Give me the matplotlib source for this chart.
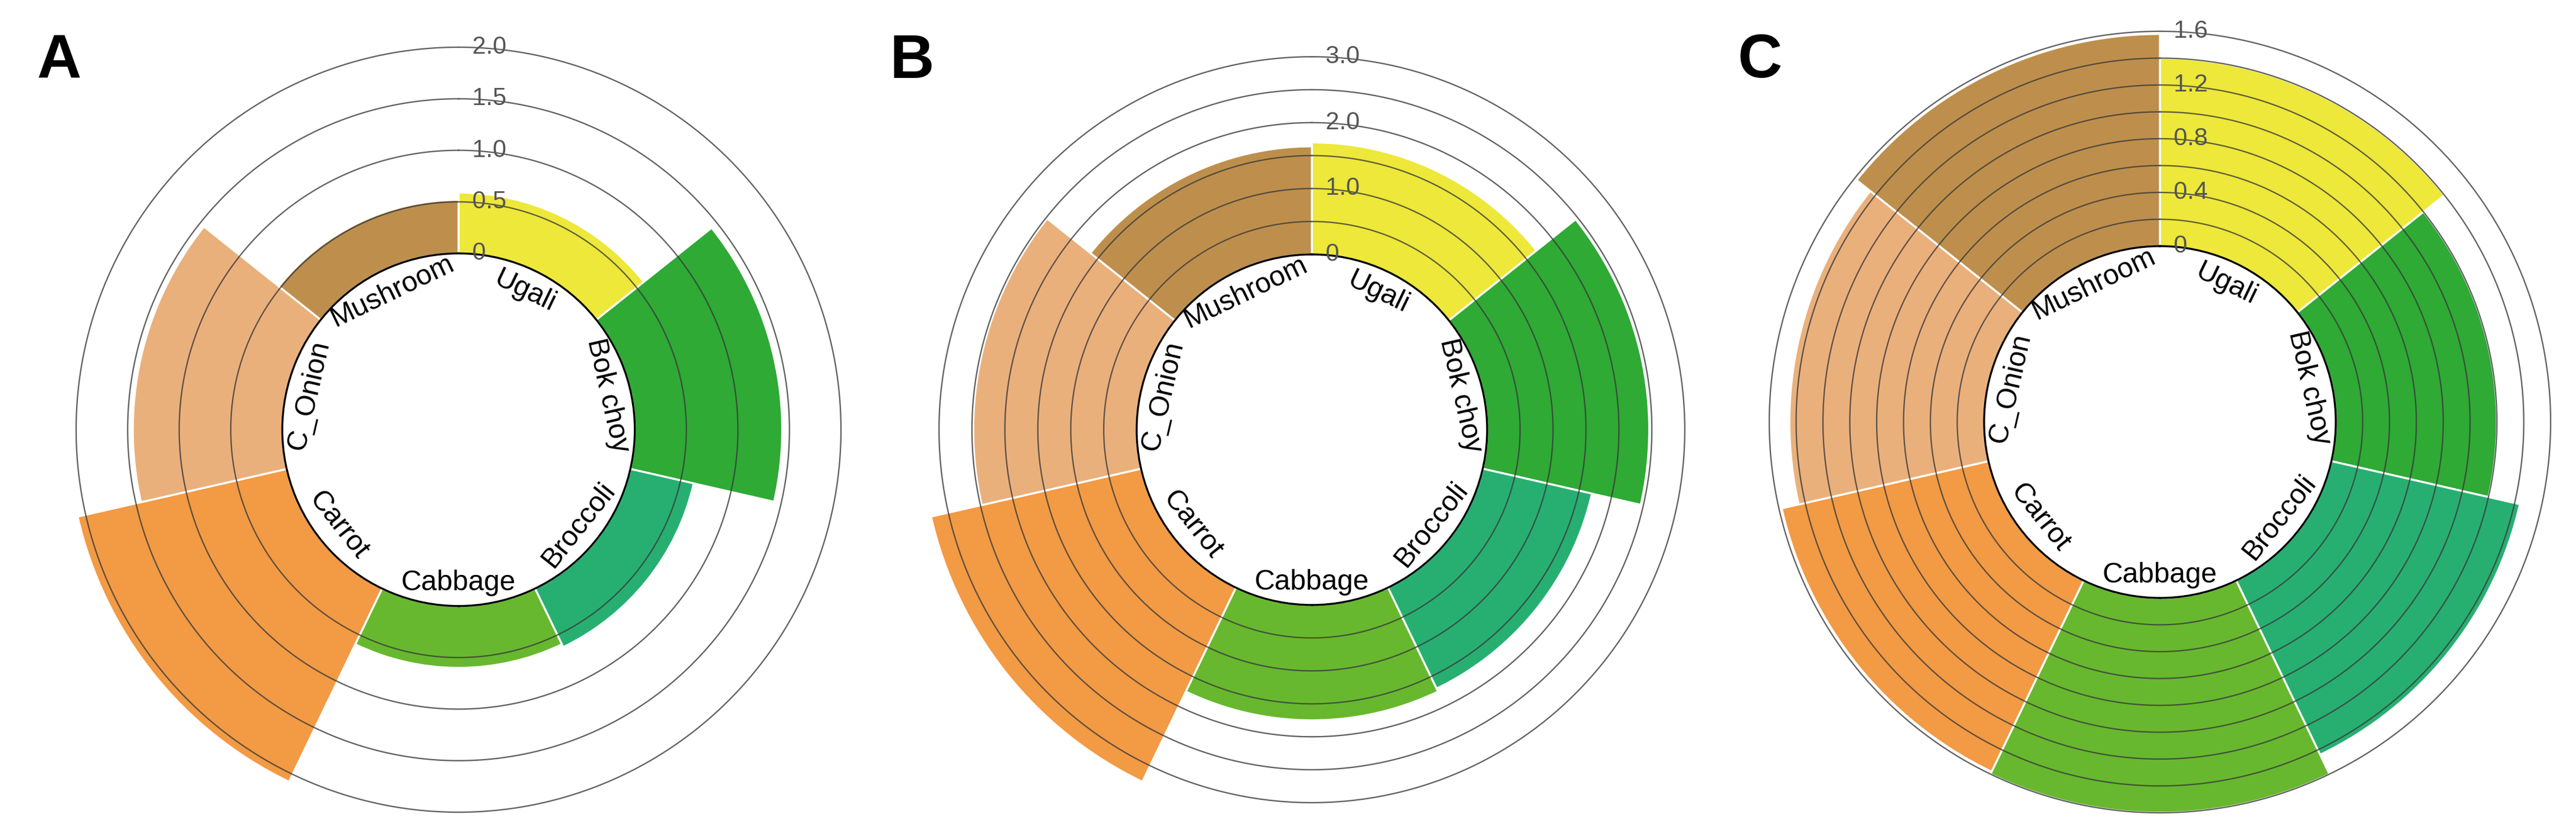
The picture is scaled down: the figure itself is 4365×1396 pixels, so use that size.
import numpy as np
import matplotlib
matplotlib.use("Agg")
import matplotlib.pyplot as plt

plt.rcParams["font.family"] = ["Liberation Sans", "DejaVu Sans"]

# categories, clockwise from the top
foods = ["Ugali", "Bok choy", "Broccoli", "Cabbage", "Carrot", "C_Onion", "Mushroom"]
colors = ["#EDE839", "#2EAA35", "#27AF72", "#67B82E", "#F29A44", "#EAB07C", "#BE8F4C"]

vals_a = [0.59, 1.43, 0.63, 0.60, 2.08, 1.45, 0.52]
vals_b = [1.70, 2.46, 1.70, 1.75, 3.27, 2.48, 1.64]
vals_c = [1.40, 1.20, 1.44, 1.60, 1.58, 1.45, 1.58]

grid_a = [0.5, 1.0, 1.5, 2.0]
grid_b = [0.5, 1.0, 1.5, 2.0, 2.5, 3.0]
grid_c = [0.2, 0.4, 0.6, 0.8, 1.0, 1.2, 1.4, 1.6]

ticks_a = ["0", "0.5", "1.0", "1.5", "2.0"]
ticks_a_pos = [0, 0.5, 1.0, 1.5, 2.0]
ticks_b = ["0", "1.0", "2.0", "3.0"]
ticks_b_pos = [0, 1.0, 2.0, 3.0]
ticks_c = ["0", "0.4", "0.8", "1.2", "1.6"]
ticks_c_pos = [0, 0.4, 0.8, 1.2, 1.6]

W, H = 4365, 1396
dpi = 300
fig = plt.figure(figsize=(W / dpi, H / dpi), dpi=dpi)

R = 662  # outer radius of each polar axes, px


def panel(cx, cy, letter, vals, offset, top, grid, tpos, tlab):
    ax = fig.add_axes([(cx - R) / W, (H - cy - R) / H, 2 * R / W, 2 * R / H],
                      projection="polar")
    ax.set_theta_offset(np.pi / 2)
    ax.set_theta_direction(-1)
    ax.set_ylim(0, top)
    ax.set_rorigin(-offset)
    ax.grid(False)
    for s in ax.spines.values():
        s.set_visible(False)
    ax.set_xticks([])
    ax.set_yticks([])
    ax.patch.set_alpha(0)

    n = len(foods)
    w = 2 * np.pi / n
    theta = np.arange(n) * w
    ax.bar(theta, vals, width=w, bottom=0, align="edge", color=colors,
           edgecolor="white", linewidth=0.8, zorder=2)

    tt = np.linspace(0, 2 * np.pi, 400)
    for g in grid:
        ax.plot(tt, np.full_like(tt, g), color="#3a3a3a", lw=0.55, alpha=0.8,
                zorder=3, clip_on=False)

    for p, lab in zip(tpos, tlab):
        ax.text(0.0, p, "  " + lab, ha="left", va="center", fontsize=10,
                color="#555555", zorder=4)

    lab_r = -0.13 * offset
    for i, f in enumerate(foods):
        a = theta[i] + w / 2
        deg = np.degrees(a)
        rot = -deg
        if 90 < deg < 270:
            rot += 180
        ax.text(a, lab_r, f, rotation=rot, rotation_mode="anchor",
                ha="center", va="center", fontsize=11.5, zorder=4)
        ax.plot([a, a], [-0.05 * offset, 0], color="black", lw=0.6, zorder=4)

    fig.text((cx - 715) / W, 1 - 105 / H, letter, fontsize=25,
             fontweight="bold", ha="left", va="center")


panel(777, 728, "A", vals_a, 1.71, 2.08, grid_a, ticks_a_pos, ticks_a)
panel(2223, 728, "B", vals_b, 2.66, 3.27, grid_b, ticks_b_pos, ticks_b)
panel(3660, 715, "C", vals_c, 1.31, 1.60, grid_c, ticks_c_pos, ticks_c)

fig.savefig("out.png", dpi=dpi, facecolor="white")
